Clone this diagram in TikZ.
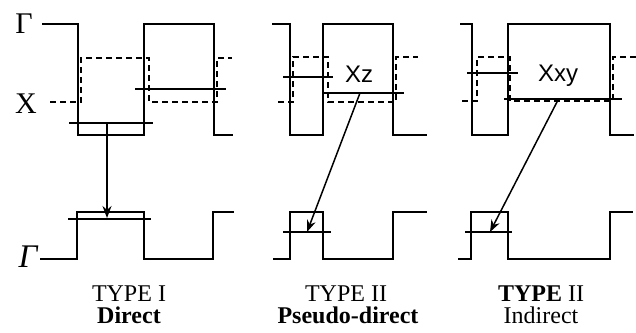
\documentclass[tikz,border=0pt]{standalone}
\usepackage{fontspec}
\setmainfont{Liberation Serif}
\newfontfamily\lsans{Liberation Sans}
\usetikzlibrary{arrows.meta}
\begin{document}
\begin{tikzpicture}[x=1pt,y=-1pt,
  wave/.style={line width=1.2pt},
  dwave/.style={line width=1.1pt,dash pattern=on 6pt off 4pt},
  level/.style={line width=1.8pt},
  tr/.style={line width=1.5pt,-{Stealth[length=12pt,width=9pt]}},
  cap1/.style={anchor=base,inner sep=0.5pt,font=\fontsize{24}{26}\selectfont},
  big/.style={anchor=base,font=\fontsize{30}{32}\selectfont},
  xl/.style={anchor=base,font=\lsans\fontsize{24}{26}\selectfont}]
\useasboundingbox (0,0) rectangle (636,332);
% labels
\node[big] (g1) at (24,33) {Γ};
\node[big] (xlab) at (26,113) {X};
\node[big,font=\fontsize{33}{34}\selectfont\itshape] (g2) at (28,267) {Γ};
% ---------- panel 1 ----------
\draw[wave] (42,24)--(78,24)--(78,135)--(144,135)--(144,24)--(214,24)--(214,135)--(233,135);
\draw[dwave] (50,102)--(81,102)--(81,58)--(149,58)--(149,102)--(217,102)--(217,58)--(232,58);
\draw[level] (69,123)--(153,123);
\draw[level] (135,89)--(226,89);
\draw[wave] (40,259)--(77,259)--(77,212)--(144,212)--(144,259)--(213,259)--(213,212)--(234,212);
\draw[level] (68,219)--(151,219);
\coordinate (a1s) at (107,123);
\coordinate (a1e) at (107,218);
\draw[tr] (a1s)--(a1e);
\node[cap1] (t1) at (129,301) {TYPE I};
\node[cap1] (d1) at (129,323) {\bfseries Direct};
% ---------- panel 2 ----------
\draw[wave] (272,24)--(290,24)--(290,135)--(323,135)--(323,24)--(393,24)--(393,135)--(427,135);
\draw[dwave] (278,102)--(293,102)--(293,57)--(328,57)--(328,102)--(396,102)--(396,57)--(418,57);
\draw[level] (283,77)--(333,77);
\draw[level] (323,93)--(404,93);
\node[xl] (xz) at (359,82) {Xz};
\draw[wave] (273,259)--(290,259)--(290,212)--(323,212)--(323,259)--(393,259)--(393,212)--(427,212);
\draw[level] (283,232)--(331,232);
\coordinate (a2s) at (360,93);
\coordinate (a2e) at (307,232);
\draw[tr] (a2s)--(a2e);
\node[cap1] (t2) at (346,301) {TYPE II};
\node[cap1] (d2) at (348,323) {\bfseries Pseudo-direct};
% ---------- panel 3 ----------
\draw[wave] (460,24)--(472,24)--(472,135)--(508,135)--(508,24)--(610,24)--(610,135)--(634,135);
\draw[dwave] (462,101)--(477,101)--(477,57)--(510,57)--(510,101)--(613,101)--(613,57)--(636,57);
\draw[level] (467,73)--(518,73);
\draw[level] (504,99)--(622,99);
\node[xl] (xxy) at (558,81) {Xxy};
\draw[wave] (458,259)--(471,259)--(471,212)--(508,212)--(508,259)--(610,259)--(610,212)--(633,212);
\draw[level] (465,232)--(512,232);
\coordinate (a3s) at (558,100);
\coordinate (a3e) at (490,232);
\draw[tr] (a3s)--(a3e);
\node[cap1] (t3) at (541,301) {\bfseries TYPE\mdseries{} II};
\node[cap1] (d3) at (541,323) {Indirect};
\end{tikzpicture}
\end{document}
